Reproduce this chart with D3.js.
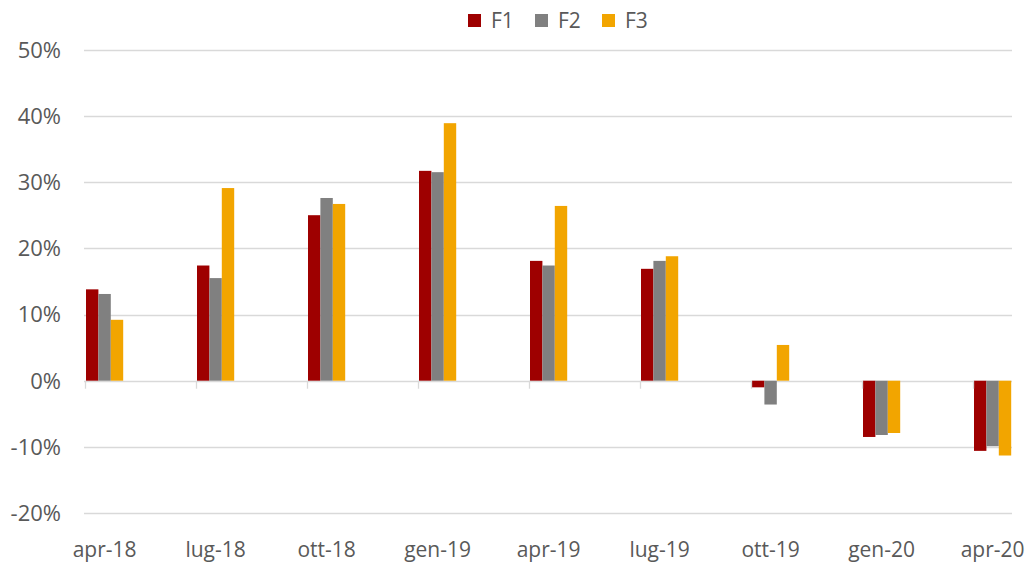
<!DOCTYPE html>
<html>
<head>
<meta charset="utf-8">
<script src="https://d3js.org/d3.v7.min.js"></script>
<style>
  body { margin:0; background:#fff; }
  text { font-family: "Open Sans", "Noto Sans", sans-serif; fill:#595959; }
  .tick_lab { font-size: 21px; }
  .y_lab { font-size: 22px; }
</style>
</head>
<body>
<script>
  var categories = ["apr-18","lug-18","ott-18","gen-19","apr-19","lug-19","ott-19","gen-20","apr-20"];
  var seriesNames = ["F1","F2","F3"];
  var f1 = [13.8, 17.4, 25.0, 31.7, 18.1, 16.9, -1.0, -8.5, -10.6];
  var f2 = [13.1, 15.5, 27.6, 31.5, 17.4, 18.1, -3.6, -8.2, -9.9];
  var f3 = [9.2, 29.1, 26.7, 38.9, 26.4, 18.8, 5.4, -7.9, -11.3];
  var yTicks = [-20, -10, 0, 10, 20, 30, 40, 50];
  var colors = ["#9e0000", "#808080", "#f2a500"];

  var w = 1032, h = 566;
  var svg = d3.select("body").append("svg").attr("width", w).attr("height", h);

  var plotLeft = 84, plotRight = 1012;
  var y = d3.scaleLinear().domain([-20, 50]).range([513.1, 49.7]);
  var x = d3.scalePoint().domain(categories).range([86, 974]);
  var barW = 12.4;

  // gridlines
  svg.append("g").selectAll("line")
    .data(yTicks).enter().append("line")
    .attr("x1", plotLeft).attr("x2", plotRight)
    .attr("y1", function(d){ return Math.round(y(d)) + 0.5; })
    .attr("y2", function(d){ return Math.round(y(d)) + 0.5; })
    .attr("stroke", "#d9d9d9").attr("stroke-width", 1.3);

  // y labels
  svg.append("g").selectAll("text")
    .data(yTicks).enter().append("text")
    .attr("class", "y_lab")
    .attr("x", 61).attr("y", function(d){ return y(d) + 7.8; })
    .attr("text-anchor", "end")
    .text(function(d){ return d + "%"; });

  // bars
  var data = [f1, f2, f3];
  data.forEach(function(vals, s) {
    svg.append("g").selectAll("rect")
      .data(vals).enter().append("rect")
      .attr("x", function(d, i){ return x(categories[i]) + s * barW; })
      .attr("y", function(d){ return y(Math.max(0, d)); })
      .attr("width", barW)
      .attr("height", function(d){ return Math.abs(y(d) - y(0)); })
      .attr("fill", colors[s]);
  });

  // x axis ticks
  svg.append("g").selectAll("line")
    .data(categories).enter().append("line")
    .attr("x1", function(d){ return Math.round(x(d)) - 0.5; })
    .attr("x2", function(d){ return Math.round(x(d)) - 0.5; })
    .attr("y1", y(0)).attr("y2", y(0) + 8)
    .attr("stroke", "#d9d9d9").attr("stroke-width", 1.3);

  // x labels
  svg.append("g").selectAll("text")
    .data(categories).enter().append("text")
    .attr("class", "tick_lab")
    .attr("x", function(d){ return x(d) + 1.5 * barW; })
    .attr("y", 557)
    .attr("text-anchor", "middle")
    .text(function(d){ return d; });

  // legend
  var leg = svg.append("g").attr("transform", "translate(468,0)");
  seriesNames.forEach(function(n, i) {
    var g = leg.append("g").attr("transform", "translate(" + (i * 67) + ",0)");
    g.append("rect").attr("x", 0).attr("y", 14).attr("width", 13).attr("height", 13).attr("fill", colors[i]);
    g.append("text").attr("class", "tick_lab").attr("x", 23).attr("y", 28).text(n);
  });
</script>
</body>
</html>
